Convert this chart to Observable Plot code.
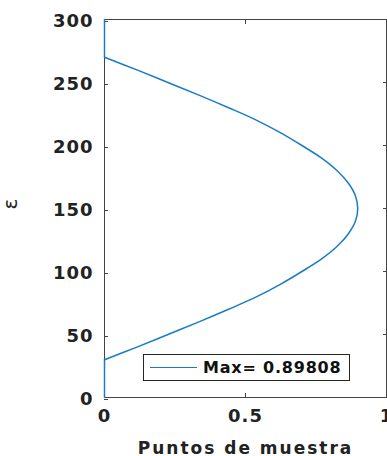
<!DOCTYPE html>
<html><head><meta charset="utf-8">
<script src="https://cdn.jsdelivr.net/npm/d3@7"></script>
<script src="https://cdn.jsdelivr.net/npm/@observablehq/plot@0.6"></script>
<style>
html,body{margin:0;padding:0;background:#fff;overflow:hidden;}
#wrap{position:relative;width:387px;height:456px;}
#legend{position:absolute;left:143px;top:354px;width:205px;height:25px;border:1px solid #262626;background:#fff;
  display:flex;align-items:center;font-family:"DejaVu Sans";font-weight:bold;font-size:16px;color:#111;letter-spacing:0.8px;}
#legend .sw{display:inline-block;width:47px;height:1.5px;background:#1a7cc4;margin-left:6px;margin-right:6px;}
.chart .tk text{letter-spacing:1px;}
</style></head>
<body><div id="wrap"></div>
<script>
// epsilon (y) vs puntos de muestra (x)
const epsilon = [0, 30, 40, 50, 60, 70, 80, 90, 100, 110, 120, 130, 140, 150, 160, 170, 180, 190, 200, 210, 220, 230, 240, 250, 260, 270, 300];
const muestra = [0, 0, 0.115, 0.225, 0.335, 0.44, 0.54, 0.625, 0.70, 0.77, 0.825, 0.865, 0.89, 0.898, 0.89, 0.865, 0.825, 0.77, 0.70, 0.625, 0.54, 0.44, 0.335, 0.225, 0.115, 0, 0];
const xTicks = [0, 0.5, 1];
const yTicks = [0, 50, 100, 150, 200, 250, 300];
const xLabel = "Puntos de muestra";
const yLabel = "ε";
const legendLabel = "Max= 0.89808";
const lineColor = "#1a7cc4";

const data = epsilon.map((e, i) => ({e, m: muestra[i]}));
const lowFlat = data.filter(d => d.e <= 30);
const middle = data.filter(d => d.e >= 30 && d.e <= 270);
const highFlat = data.filter(d => d.e >= 270);

const axisColor = "#444";
const plot = Plot.plot({
  width: 387, height: 456,
  marginLeft: 104, marginRight: 1, marginTop: 19, marginBottom: 59,
  className: "chart",
  style: {fontFamily: "DejaVu Sans", fontSize: "18px", fontWeight: "bold", color: "#222", overflow: "visible", background: "#fff"},
  x: {domain: [0, 1]},
  y: {domain: [0, 300]},
  marks: [
    Plot.frame({stroke: axisColor}),
    Plot.axisY(yTicks, {anchor: "left", tickSize: -4, tickPadding: 15, dy: 2, label: null, stroke: axisColor, fill: "#222", className: "tk"}),
    Plot.axisY(yTicks, {anchor: "right", tickSize: -4, tickFormat: () => "", label: null, stroke: axisColor}),
    Plot.axisX(xTicks, {anchor: "bottom", tickSize: -4, tickPadding: 16, label: null, stroke: axisColor, fill: "#222", tickFormat: d => String(d), className: "tk"}),
    Plot.axisX(xTicks, {anchor: "top", tickSize: -4, tickFormat: () => "", label: null, stroke: axisColor}),
    Plot.text([xLabel], {frameAnchor: "bottom", dy: 56, lineAnchor: "bottom", fontSize: 17, fontWeight: "bold", fill: "#222", className: "xl"}),
    Plot.text([yLabel], {frameAnchor: "left", dx: -94, dy: 1, rotate: -90, fontSize: 20, fontWeight: "normal", fill: "#222"}),
    Plot.line(lowFlat, {x: "m", y: "e", stroke: lineColor, strokeWidth: 1.5}),
    Plot.line(middle, {x: "m", y: "e", stroke: lineColor, strokeWidth: 1.5, curve: "catmull-rom"}),
    Plot.line(highFlat, {x: "m", y: "e", stroke: lineColor, strokeWidth: 1.5})
  ]
});
d3.select(plot).selectAll(".xl text").style("letter-spacing", "2px");
const wrap = document.getElementById("wrap");
wrap.appendChild(plot);
const lg = document.createElement("div");
lg.id = "legend";
lg.innerHTML = '<span class="sw"></span><span></span>';
lg.lastChild.textContent = legendLabel;
wrap.appendChild(lg);
</script>
</body></html>
